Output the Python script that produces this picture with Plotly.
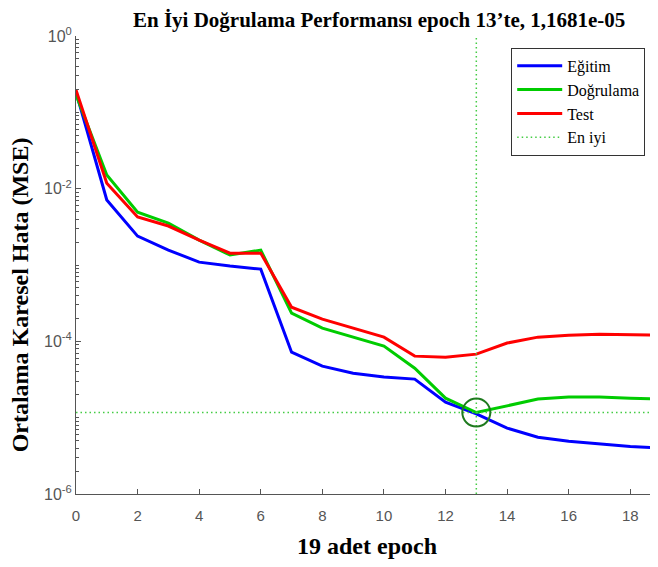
import plotly.graph_objects as go

epochs = list(range(20))
egitim = [0.185, 0.0071, 0.00239, 0.00157, 0.00109, 0.000968, 0.000883, 7.2e-5, 4.73e-5, 3.83e-5,
          3.4e-5, 3.2e-5, 1.6e-5, 1.12e-5, 7.3e-6, 5.55e-6, 4.9e-6, 4.5e-6, 4.2e-6, 4.0e-6]
dogrulama = [0.17, 0.0151, 0.00493, 0.00354, 0.00212, 0.00135, 0.00157, 2.34e-4, 1.49e-4, 1.135e-4,
             8.65e-5, 4.45e-5, 1.8e-5, 1.1681e-5, 1.42e-5, 1.75e-5, 1.86e-5, 1.86e-5, 1.8e-5, 1.75e-5]
test = [0.196, 0.0118, 0.00425, 0.00324, 0.00212, 0.00143, 0.00143, 2.8e-4, 1.95e-4, 1.49e-4,
        1.135e-4, 6.4e-5, 6.2e-5, 6.8e-5, 9.5e-5, 1.135e-4, 1.2e-4, 1.24e-4, 1.22e-4, 1.2e-4]
best_epoch = 13
best_perf = 1.1681e-05

x_ticks = list(range(0, 19, 2))
y_ticks = [1e-6, 1e-4, 1e-2, 1e0]
y_ticktext = ["10<sup>-6</sup>", "10<sup>-4</sup>", "10<sup>-2</sup>", "10<sup>0</sup>"]
y_decades = [1e-6, 1e-5, 1e-4, 1e-3, 1e-2, 1e-1]

minor_vals = [k * d for d in y_decades for k in range(1, 10) if not (k == 1 and d in y_ticks)]

fig = go.Figure()
fig.add_trace(go.Scatter(x=epochs, y=egitim, mode="lines", name="Eğitim",
                         line=dict(color="#0000FF", width=3)))
fig.add_trace(go.Scatter(x=epochs, y=dogrulama, mode="lines", name="Doğrulama",
                         line=dict(color="#00CC00", width=3)))
fig.add_trace(go.Scatter(x=epochs, y=test, mode="lines", name="Test",
                         line=dict(color="#FF0000", width=3)))
fig.add_trace(go.Scatter(x=[best_epoch, best_epoch, None, 0, epochs[-1]],
                         y=[1e-6, 1e0, None, best_perf, best_perf],
                         mode="lines", name="En iyi",
                         line=dict(color="#44CC44", width=1.5, dash="1.5px,3px")))
fig.add_trace(go.Scatter(x=[best_epoch], y=[best_perf], mode="markers", showlegend=False,
                         marker=dict(symbol="circle-open", size=28, color="#1E7A1E",
                                     line=dict(width=2, color="#1E7A1E"))))

fig.update_layout(
    width=650, height=559,
    margin=dict(l=68, r=0, t=28, b=73),
    plot_bgcolor="white", paper_bgcolor="white",
    title=dict(text="<b>En İyi Doğrulama Performansı epoch 13’te, 1,1681e-05</b>",
               x=0.571, xanchor="center", y=0.992, yanchor="top",
               font=dict(family="Liberation Serif", size=21, color="black")),
    legend=dict(x=0.978, xanchor="right", y=0.974, yanchor="top",
                bgcolor="white", bordercolor="#333333", borderwidth=1,
                font=dict(family="Liberation Serif", size=16, color="black"),
                itemwidth=45, tracegroupgap=0),
    xaxis=dict(range=[0, 18.9], tickvals=x_ticks, ticks="inside", ticklen=5,
               tickcolor="#555555", showline=True, linecolor="#555555", linewidth=1,
               showgrid=False, zeroline=False, automargin=False, ticklabelstandoff=8,
               tickfont=dict(family="Liberation Sans", size=15, color="#555555"),
               title=dict(text="<b>19 adet epoch</b>", standoff=14,
                          font=dict(family="Liberation Serif", size=24, color="black"))),
    yaxis=dict(type="log", range=[-6, 0], tickvals=y_ticks, ticktext=y_ticktext,
               ticks="inside", ticklen=5, tickcolor="#555555",
               showline=True, linecolor="#555555", linewidth=1,
               showgrid=False, zeroline=False, automargin=False,
               minor=dict(tickvals=minor_vals, ticks="inside", ticklen=3,
                          tickcolor="#555555", showgrid=False),
               tickfont=dict(family="Liberation Sans", size=16, color="#555555")),
    annotations=[dict(text="<b>Ortalama Karesel Hata (MSE)</b>", textangle=-90,
                      xref="paper", yref="paper", x=-0.096, y=0.434,
                      xanchor="center", yanchor="middle", showarrow=False,
                      font=dict(family="Liberation Serif", size=24, color="black"))],
)

fig.write_html("out.html")
